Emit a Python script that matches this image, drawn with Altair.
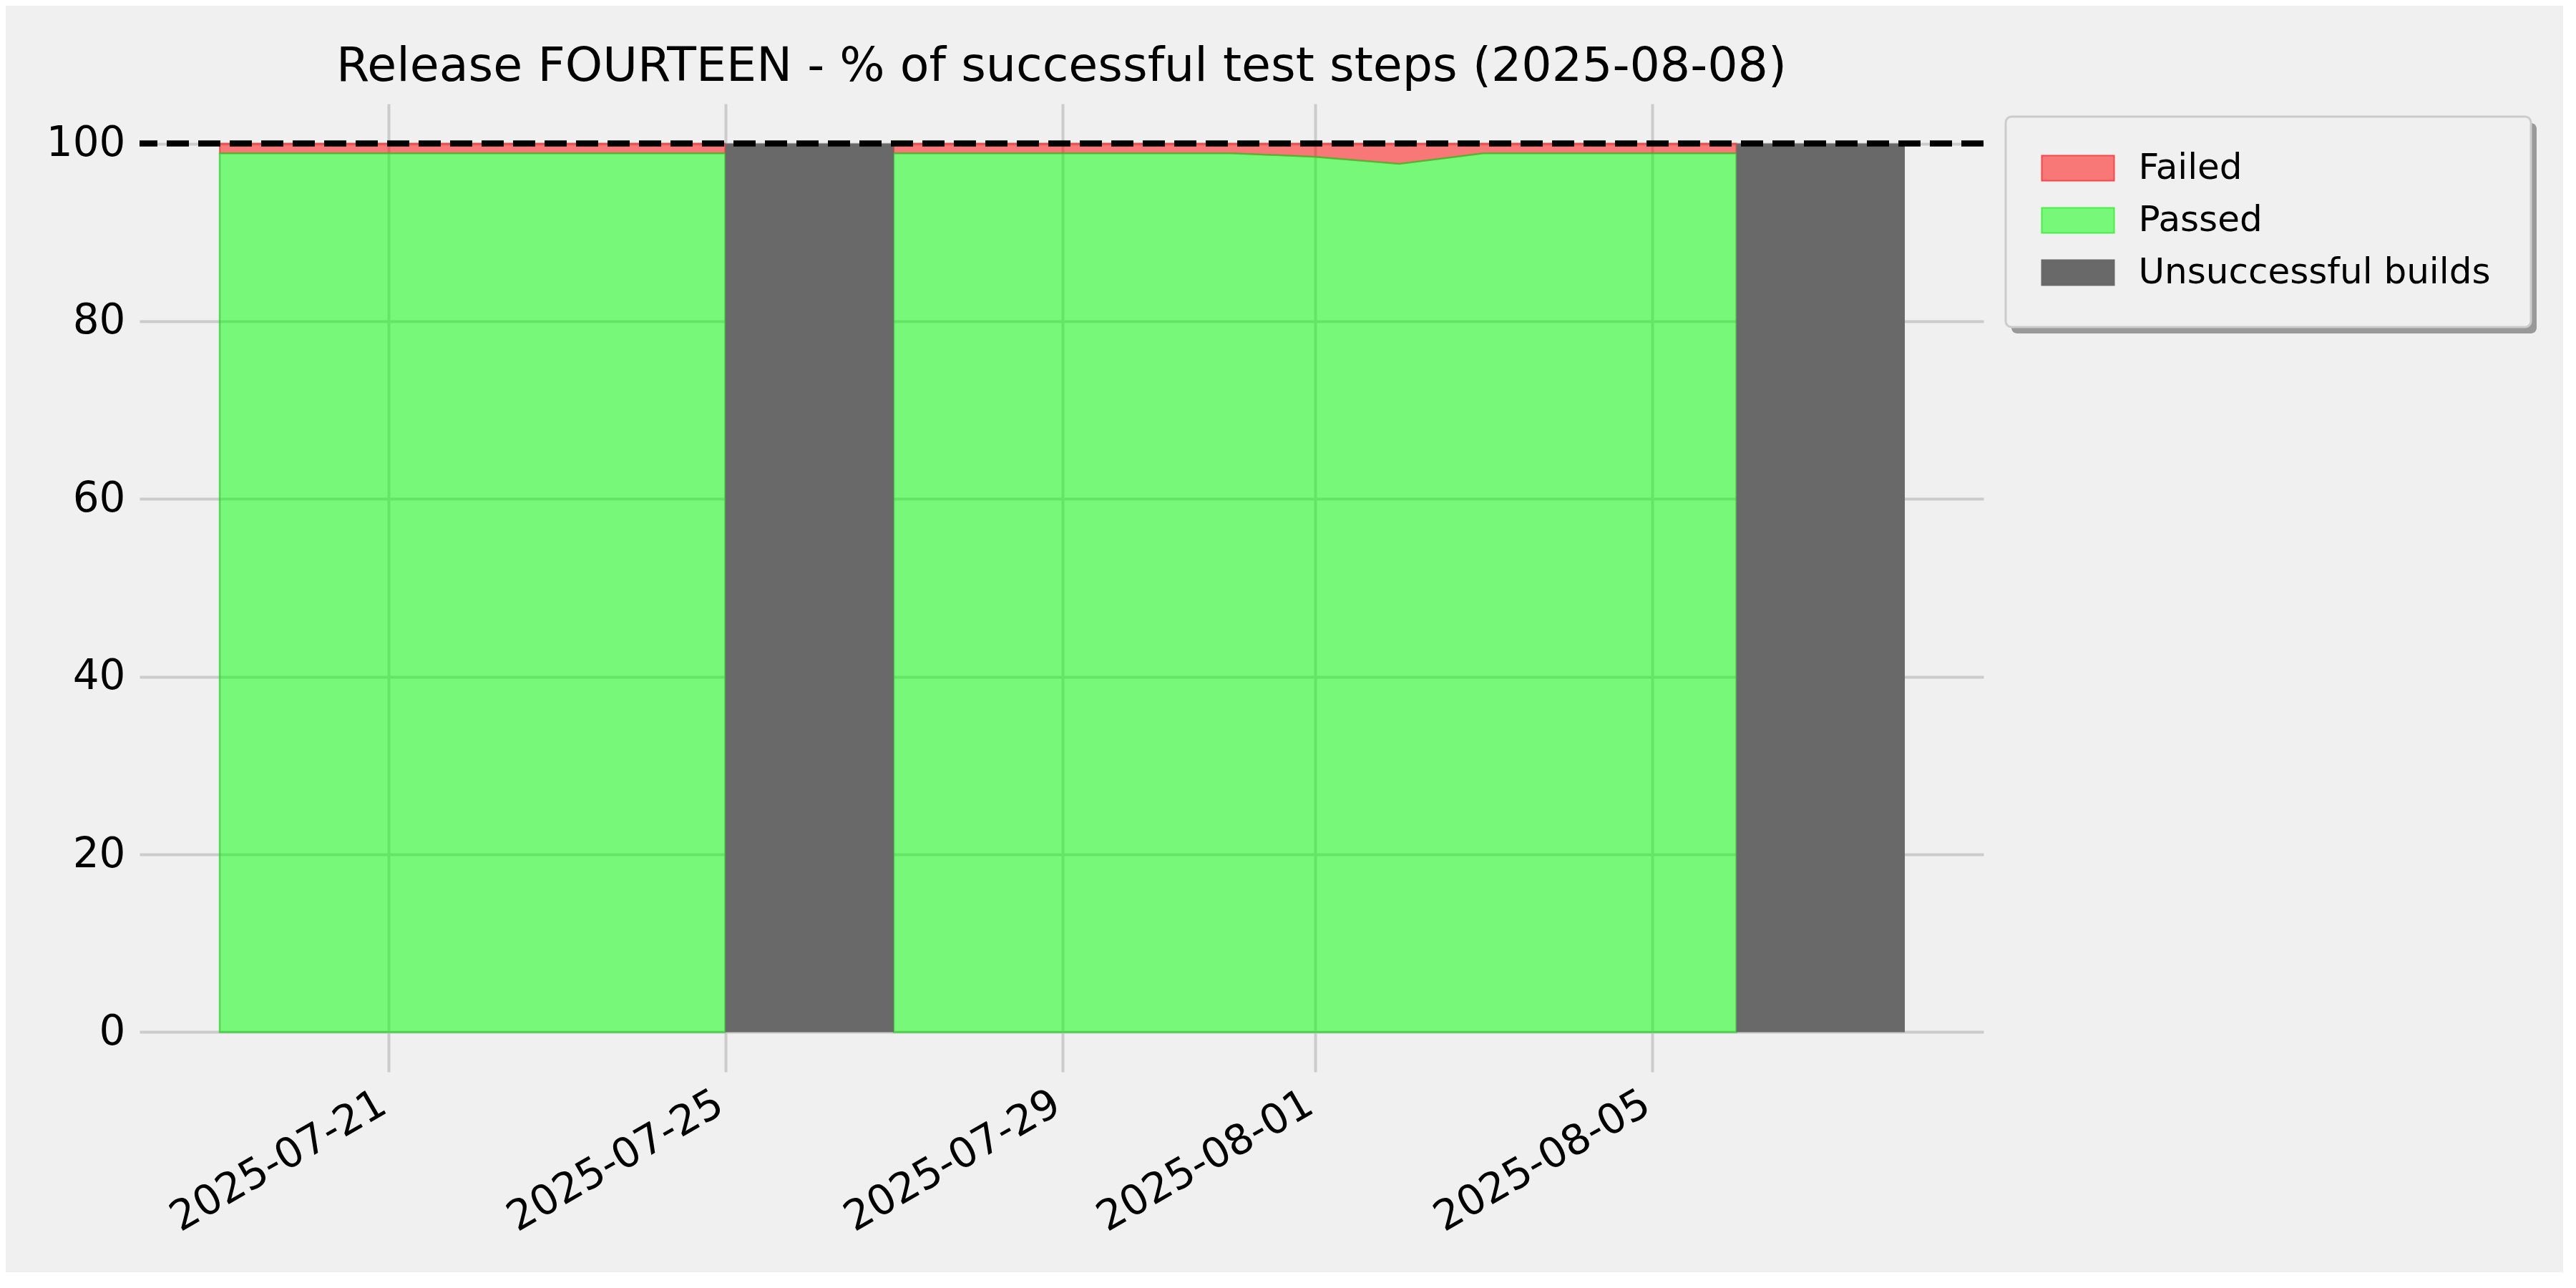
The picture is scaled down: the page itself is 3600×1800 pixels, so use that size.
import altair as alt
import pandas as pd

# ---------------- data ----------------
area_dates = ["2025-07-19", "2025-07-20", "2025-07-21", "2025-07-22", "2025-07-23", "2025-07-24", "2025-07-25",
              "2025-07-27", "2025-07-28", "2025-07-29", "2025-07-30", "2025-07-31", "2025-08-01", "2025-08-02",
              "2025-08-03", "2025-08-04", "2025-08-05", "2025-08-06"]
area_segment = [1, 1, 1, 1, 1, 1, 1,
                2, 2, 2, 2, 2, 2, 2, 2, 2, 2, 2]
passed_pct = [98.9, 98.9, 98.9, 98.9, 98.9, 98.9, 98.9,
              98.9, 98.9, 98.9, 98.9, 98.9, 98.5, 97.7, 98.9, 98.9, 98.9, 98.9]
failed_pct = [1.1, 1.1, 1.1, 1.1, 1.1, 1.1, 1.1,
              1.1, 1.1, 1.1, 1.1, 1.1, 1.5, 2.3, 1.1, 1.1, 1.1, 1.1]

unsuccessful_start = ["2025-07-25", "2025-08-06"]
unsuccessful_end = ["2025-07-27", "2025-08-08"]
unsuccessful_pct = [100, 100]

target_pct = [100]

series_names = ["Failed", "Passed", "Unsuccessful builds"]
x_tick_dates = [(2025, 7, 21), (2025, 7, 25), (2025, 7, 29), (2025, 8, 1), (2025, 8, 5)]
y_ticks = [0, 20, 40, 60, 80, 100]
title_text = "Release FOURTEEN - % of successful test steps (2025-08-08)"

# ---------------- tables ----------------
df_area = pd.DataFrame({
    "date": pd.to_datetime(area_dates),
    "segment": area_segment,
    "passed": passed_pct,
    "failed": failed_pct,
})
df_area["top"] = df_area["passed"] + df_area["failed"]

df_bars = pd.DataFrame({
    "start": pd.to_datetime(unsuccessful_start),
    "end": pd.to_datetime(unsuccessful_end),
    "pct": unsuccessful_pct,
})
df_target = pd.DataFrame({"target": target_pct})
df_series = pd.DataFrame({"series": series_names})
df_one = pd.DataFrame({"k": [0]})

FONT = "DejaVu Sans"

x_scale = alt.Scale(domain=[alt.DateTime(year=2025, month=7, date=18, hours=1, minutes=10),
                            alt.DateTime(year=2025, month=8, date=8, hours=22, minutes=25)])
x_axis = alt.Axis(values=[alt.DateTime(year=y, month=m, date=d) for (y, m, d) in x_tick_dates],
                  format="%Y-%m-%d", labelAngle=-30, labelAlign="right", labelBaseline="top",
                  labelFontSize=58, labelPadding=15, labelOffset=-22, labelOverlap=False, labelFlush=False,
                  labelLimit=1000, grid=True, title=None)
y_scale = alt.Scale(domain=[-4.47, 104.47], nice=False, zero=False)
y_axis = alt.Axis(values=y_ticks, format="d", labelFontSize=58, labelPadding=20,
                  grid=True, title=None)


def X(field):
    return alt.X(field, scale=x_scale, axis=x_axis)


def Y(field):
    return alt.Y(field, scale=y_scale, axis=y_axis)


failed_area = alt.Chart(df_area).mark_area(
    fill="#ff0000", fillOpacity=0.5, stroke="#ff0000", strokeOpacity=0.5, strokeWidth=2
).encode(x=X("date:T"), y=Y("passed:Q"), y2="top:Q", detail="segment:N")

passed_area = alt.Chart(df_area).mark_area(
    fill="#00ff00", fillOpacity=0.5, stroke="#2ecc2e", strokeOpacity=0.7, strokeWidth=2.5
).encode(x=X("date:T"), y=Y("passed:Q"), y2=alt.datum(0), detail="segment:N")

bars = alt.Chart(df_bars).mark_rect(color="#696969").encode(
    x=X("start:T"), x2="end:T", y=Y("pct:Q"), y2=alt.datum(0)
)

target = alt.Chart(df_target).mark_rule(
    color="black", strokeDash=[31, 13], strokeWidth=8.3, strokeCap="butt"
).encode(y=Y("target:Q"))

# legend frame (decoration)
shadow = alt.Chart(df_one).mark_rect(fill="#999999", cornerRadius=8).encode(
    x=alt.value(2616), x2=alt.value(3350), y=alt.value(27), y2=alt.value(321)
)
box = alt.Chart(df_one).mark_rect(fill="#f0f0f0", stroke="#cccccc", strokeWidth=3, cornerRadius=8).encode(
    x=alt.value(2608), x2=alt.value(3342), y=alt.value(18), y2=alt.value(312)
)

SYMBOL = "M-2.886,-1L2.886,-1L2.886,1L-2.886,1Z"
legend = alt.Legend(
    title=None, orient="none", legendX=2650.5, legendY=65, padding=0,
    symbolType=SYMBOL, symbolSize=1225, symbolOffset=33.5, symbolStrokeWidth=2,
    symbolOpacity=1,
    labelFont=FONT, labelFontSize=50, labelColor="#000000", labelOffset=59.5,
    labelLimit=1000, rowPadding=23,
)
legend_layer = alt.Chart(df_series).transform_filter("false").mark_point(
    filled=True, shape=SYMBOL, opacity=1
).encode(
    fill=alt.Fill("series:N", scale=alt.Scale(domain=series_names,
                                              range=["#f87878", "#78f878", "#696969"]), legend=legend),
    stroke=alt.Stroke("series:N", scale=alt.Scale(domain=series_names,
                                                  range=["#fb4646", "#46f046", "#696969"]), legend=legend),
)

chart = alt.layer(
    failed_area, passed_area, bars, target, shadow, box, legend_layer
).properties(
    width=2577, height=1353,
    autosize=alt.AutoSizeParams(type="none"),
    padding={"left": 187, "top": 137, "right": 810, "bottom": 280},
    title=alt.TitleParams(title_text, font=FONT, fontSize=66.6, fontWeight="normal", color="#000000",
                          anchor="middle", frame="group", baseline="alphabetic", offset=32, dy=67),
).configure(
    background="#f0f0f0", font=FONT
).configure_view(
    stroke=None
).configure_axis(
    gridColor="#cbcbcb", gridWidth=4, domain=False, ticks=False,
    labelColor="#000000", labelFont=FONT
)

chart.save("out.html", embed_options={"renderer": "svg", "actions": False})
